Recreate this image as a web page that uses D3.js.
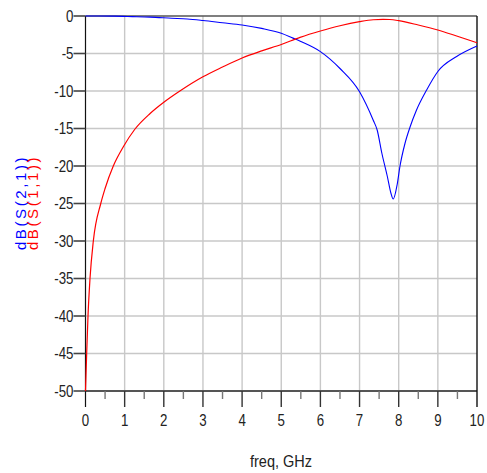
<!DOCTYPE html>
<meta charset="utf-8">
<style>
  body { margin: 0; background: #fff; }
  svg { display: block; }
  .tick-label { font-family: "Liberation Sans", Arial, sans-serif; font-size: 16px; fill: #222; }
  .ytitle { font-family: "Liberation Sans", Arial, sans-serif; font-size: 15px; letter-spacing: 2.6px; }
</style>
<body>
<div id="chart"></div>
<script src="https://d3js.org/d3.v7.min.js"></script>
<script>
  // S21 (blue)
  const freqS21 = [0, 0.75, 1.2, 1.65, 2.2, 2.6, 3.0, 3.5, 4.0, 4.5, 5.0, 5.3, 5.5, 6.0, 6.5, 7.0,
                   7.35, 7.45, 7.57, 7.71, 7.80, 7.86, 7.96, 8.03, 8.16, 8.29, 8.45, 8.71, 9.0, 9.48, 10];
  const s21 = [0, -0.02, -0.08, -0.15, -0.3, -0.4, -0.6, -0.9, -1.2, -1.65, -2.3, -2.95, -3.4, -4.75, -7.0, -10.1,
               -13.9, -15.2, -18.3, -21.4, -23.6, -24.4, -22.5, -20.1, -17.0, -14.8, -12.6, -9.9, -7.4, -5.4, -4.0];

  // S11 (red)
  const freqS11 = [0, 0.03, 0.064, 0.115, 0.2, 0.39, 0.5, 0.71, 0.97, 1.26, 1.65, 2.0, 2.41, 3.0, 3.5,
                   4.0, 4.5, 5.0, 5.48, 6.0, 6.5, 7.0, 7.35, 7.6, 7.77, 8.0, 8.5, 9.0, 9.48, 10];
  const s11 = [-50, -45, -40, -35, -30, -25, -23.0, -20, -17.4, -15.1, -13.0, -11.5, -10.0, -8.1, -6.8,
               -5.6, -4.65, -3.8, -2.85, -2.0, -1.3, -0.76, -0.5, -0.45, -0.47, -0.62, -1.2, -1.87, -2.67, -3.56];

  const xTicks = [0, 1, 2, 3, 4, 5, 6, 7, 8, 9, 10];
  const yTicks = [0, -5, -10, -15, -20, -25, -30, -35, -40, -45, -50];

  const width = 487, height = 473;
  const x = d3.scaleLinear().domain([0, 10]).range([85.5, 477]);
  const y = d3.scaleLinear().domain([-50, 0]).range([391, 16]);
  const narrow = 0.83; // condensed look of the labels

  const svg = d3.select("#chart").append("svg")
    .attr("width", width)
    .attr("height", height);

  // grid
  svg.append("g").selectAll("line")
    .data(xTicks.slice(1, -1))
    .join("line")
      .attr("x1", d => x(d)).attr("x2", d => x(d))
      .attr("y1", y(0)).attr("y2", y(-50))
      .attr("stroke", "#c8c8c8").attr("stroke-width", 1.4);
  svg.append("g").selectAll("line")
    .data(yTicks.slice(1, -1))
    .join("line")
      .attr("x1", x(0)).attr("x2", x(10))
      .attr("y1", d => y(d)).attr("y2", d => y(d))
      .attr("stroke", "#c8c8c8").attr("stroke-width", 1.4);

  // frame
  svg.append("line").attr("x1", x(0)).attr("x2", x(10)).attr("y1", y(0)).attr("y2", y(0))
    .attr("stroke", "#555").attr("stroke-width", 1.6);
  svg.append("line").attr("x1", x(0)).attr("x2", x(10)).attr("y1", y(-50)).attr("y2", y(-50))
    .attr("stroke", "#555").attr("stroke-width", 2);

  // x ticks: majors reach 16px below, halves 8px
  const minor = d3.range(0.5, 10, 1);
  svg.append("g").selectAll("line")
    .data(minor)
    .join("line")
      .attr("x1", d => x(d)).attr("x2", d => x(d))
      .attr("y1", y(-50)).attr("y2", y(-50) + 8)
      .attr("stroke", "#777").attr("stroke-width", 1.4);
  svg.append("g").selectAll("line")
    .data(xTicks.slice(1, -1))
    .join("line")
      .attr("x1", d => x(d)).attr("x2", d => x(d))
      .attr("y1", y(-50)).attr("y2", y(-50) + 16)
      .attr("stroke", "#333").attr("stroke-width", 1.4);

  // left and right edges go down to the tick length
  svg.append("line").attr("x1", x(0)).attr("x2", x(0)).attr("y1", y(0)).attr("y2", y(-50) + 16)
    .attr("stroke", "#111").attr("stroke-width", 1.2);
  svg.append("line").attr("x1", x(10)).attr("x2", x(10)).attr("y1", y(0)).attr("y2", y(-50) + 16)
    .attr("stroke", "#111").attr("stroke-width", 1.4);

  // y ticks
  svg.append("g").selectAll("line")
    .data(yTicks)
    .join("line")
      .attr("x1", x(0) - 12).attr("x2", x(0))
      .attr("y1", d => y(d)).attr("y2", d => y(d))
      .attr("stroke", "#444").attr("stroke-width", 1.6);

  svg.append("g").selectAll("text")
    .data(yTicks)
    .join("text")
      .attr("class", "tick-label")
      .attr("transform", d => `translate(${x(0) - 12},${y(d) + 5.5}) scale(${narrow},1)`)
      .attr("text-anchor", "end")
      .text(d => d);

  svg.append("g").selectAll("text")
    .data(xTicks)
    .join("text")
      .attr("class", "tick-label")
      .attr("transform", d => `translate(${x(d)},426) scale(${narrow},1)`)
      .attr("text-anchor", "middle")
      .text(d => d);

  svg.append("text")
    .attr("class", "tick-label")
    .attr("transform", `translate(281,466.5) scale(0.88,1)`)
    .attr("text-anchor", "middle")
    .style("font-size", "16.5px")
    .text("freq, GHz");

  // y titles, rotated
  svg.append("text")
    .attr("class", "ytitle")
    .attr("transform", "translate(25.5,202.5) rotate(-90)")
    .attr("text-anchor", "middle")
    .attr("fill", "#0000ff")
    .text("dB(S(2,1))");
  svg.append("text")
    .attr("class", "ytitle")
    .attr("transform", "translate(38,202.5) rotate(-90)")
    .attr("text-anchor", "middle")
    .attr("fill", "#ff0000")
    .text("dB(S(1,1))");

  // curves
  const line = d3.line()
    .x(d => x(d[0]))
    .y(d => y(d[1]))
    .curve(d3.curveMonotoneX);

  svg.append("path")
    .datum(d3.zip(freqS21, s21))
    .attr("d", line)
    .attr("fill", "none")
    .attr("stroke", "#0000ff")
    .attr("stroke-width", 1.1);

  svg.append("path")
    .datum(d3.zip(freqS11, s11))
    .attr("d", line)
    .attr("fill", "none")
    .attr("stroke", "#ff0000")
    .attr("stroke-width", 1.2);
</script>
</body>
